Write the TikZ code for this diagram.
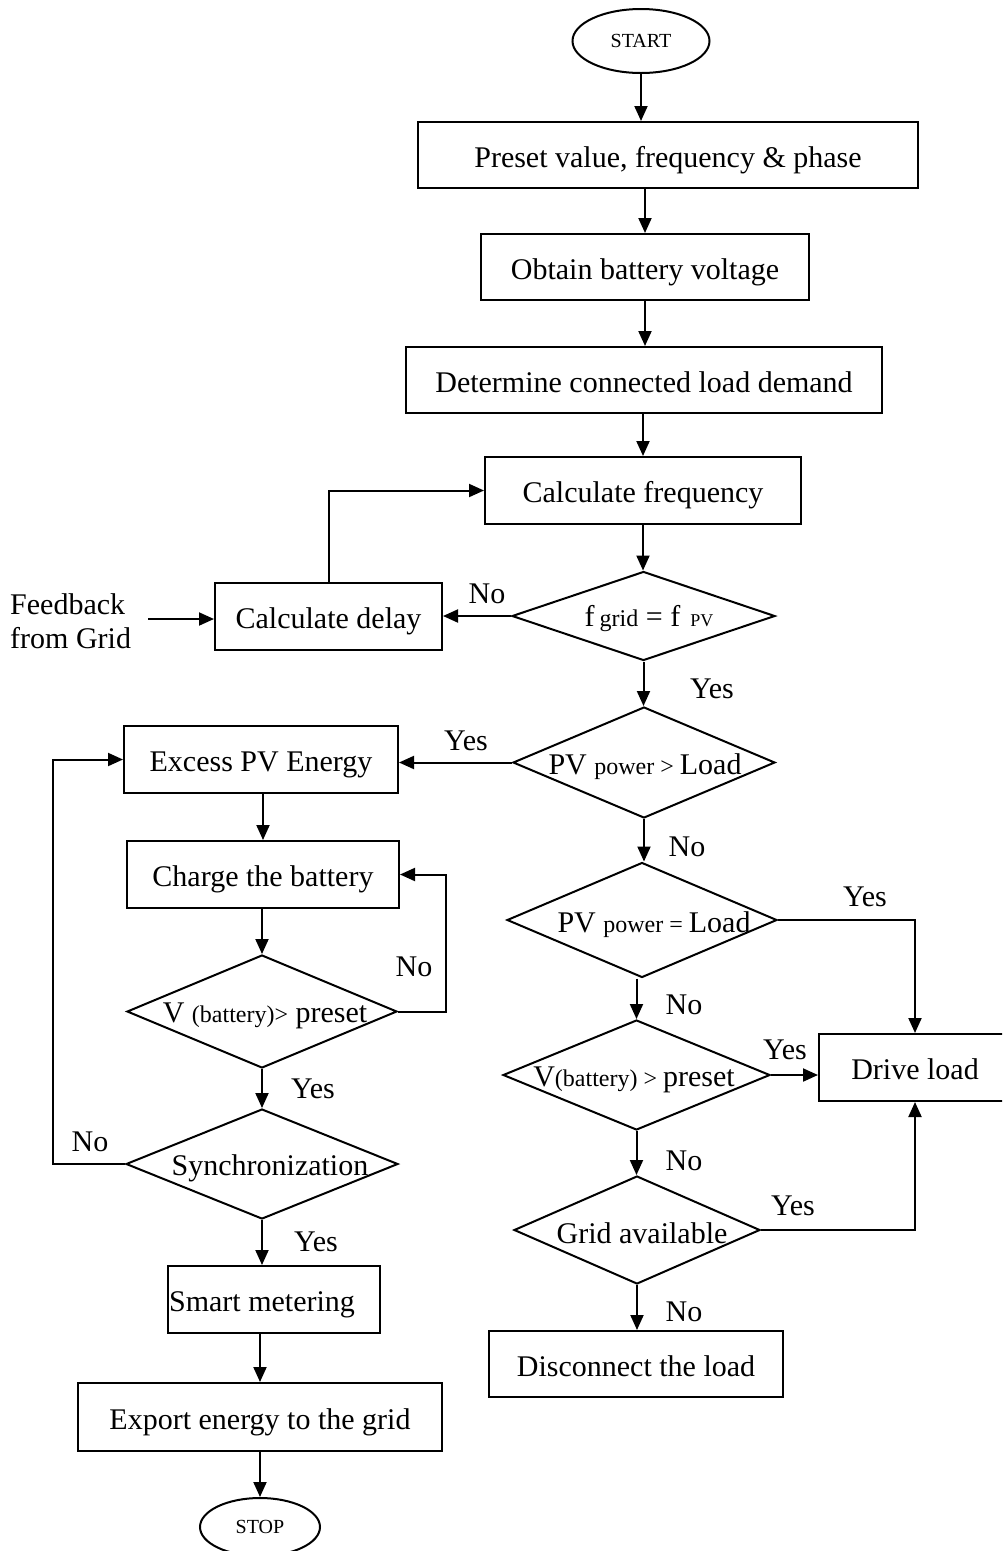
\documentclass[tikz,border=0pt]{standalone}
\usepackage{fontspec}
\setmainfont{Liberation Serif}
\usetikzlibrary{shapes.geometric,arrows.meta}
\newcommand{\smtxt}[1]{{\fontsize{24}{24}\selectfont #1}}
\newcommand{\tntxt}[1]{{\fontsize{18}{18}\selectfont #1}}
\begin{document}
\begin{tikzpicture}[x=1pt,y=-1pt,
  every node/.style={font=\fontsize{30}{34}\selectfont, inner sep=0pt},
  box/.style={draw, line width=2pt, rectangle, minimum height=66pt, text height=26pt, text depth=2pt},
  dia/.style={draw, line width=2pt, diamond, inner sep=0pt},
  term/.style={draw, line width=2pt, ellipse, font=\fontsize{20}{24}\selectfont},
  conn/.style={line width=2pt},
  arr/.style={conn, -{Triangle[length=15pt,width=13pt]}}]
\clip (0,0) rectangle (1002,1551);
\fill[white] (0,0) rectangle (1002,1551);

% right column
\node[term, minimum width=137pt, minimum height=64pt] (start) at (641,41) {START};
\node[box, minimum width=500pt] (preset) at (668,155) {Preset value, frequency \& phase};
\node[box, minimum width=328pt] (obtain) at (645,267) {Obtain battery voltage};
\node[box, minimum width=476pt] (determine) at (644,380) {Determine connected load demand};
\node[box, minimum width=316pt, minimum height=67pt] (calc) at (643,490.5) {Calculate frequency};
\node[dia, minimum width=263pt, minimum height=89pt] (d1) at (643.5,616) {};
\node (d1t) at (649,619) {f\,\smtxt{grid} = f\,\,\tntxt{PV}};
\node[box, minimum width=227pt, minimum height=67pt] (delay) at (328.5,616.5) {Calculate delay};
\node[align=left, anchor=west] (fb) at (10,621) {Feedback\\from Grid};
\coordinate (fbout) at (148,619);

\node[dia, minimum width=262pt, minimum height=111pt] (d2) at (644,762.5) {};
\node (d2t) at (645,767) {PV \smtxt{power > }Load};
\node[dia, minimum width=270pt, minimum height=115pt] (d3) at (642,920) {};
\node (d3t) at (654,925) {PV \smtxt{power = }Load};
\node[dia, minimum width=267pt, minimum height=110pt] (d4) at (636.5,1075) {};
\node (d4t) at (634,1080) {V\smtxt{(battery) > }preset};
\node[dia, minimum width=246pt, minimum height=108pt] (d5) at (637,1230) {};
\node (d5t) at (642,1233) {Grid available};
\node[box, minimum width=294pt] (disc) at (636,1364) {Disconnect the load};
\node[box, minimum width=192pt, minimum height=67pt] (drive) at (915,1067.5) {Drive load};

% left column
\node[box, minimum width=274pt, minimum height=67pt] (excess) at (261,759.5) {Excess PV Energy};
\node[box, minimum width=272pt, minimum height=67pt] (charge) at (263,874.5) {Charge the battery};
\node[dia, minimum width=270pt, minimum height=113pt] (dl1) at (262,1011.5) {};
\node (dl1t) at (265,1016) {V \smtxt{(battery)>} preset};
\node[dia, minimum width=272pt, minimum height=110pt] (dl2) at (262,1164) {};
\node (dl2t) at (270,1168) {Synchronization};
\node[box, minimum width=212pt, minimum height=67pt] (smart) at (274,1299.5) {};
\node[text height=26pt, text depth=2pt] (smartt) at (262,1299.5) {Smart metering};
\node[box, minimum width=364pt, minimum height=68pt] (export) at (260,1417) {Export energy to the grid};
\node[term, minimum width=120pt, minimum height=58pt] (stop) at (260,1527) {STOP};

% connectors
\draw[arr] (start.south) -- (start.south |- preset.north);
\draw[arr] (obtain.north |- preset.south) -- (obtain.north);
\draw[arr] (obtain.south) -- (obtain.south |- determine.north);
\draw[arr] (calc.north |- determine.south) -- (calc.north);
\draw[arr] (calc.south) -- (calc.south |- d1.north);
\draw[arr] (d1.west) -- (d1.west -| delay.east);
\draw[arr] (fbout) -- (fbout -| delay.west);
\draw[arr] (delay.north) |- (calc.west);
\draw[arr] (d1.south) -- (d1.south |- d2.north);
\draw[arr] (d2.west) -- (d2.west -| excess.east);
\draw[arr] (d2.south) -- (d2.south |- d3.north);
\draw[arr] (d3.east) -| (drive.north);
\draw[arr] (d4.north |- d3.south) -- (d4.north);
\draw[arr] (d4.east) -- (d4.east -| drive.west);
\draw[arr] (d4.south) -- (d4.south |- d5.north);
\draw[arr] (d5.east) -| (drive.south);
\draw[arr] (d5.south) -- (d5.south |- disc.north);

\draw[arr] (excess.south -| charge.north) -- (charge.north);
\draw[arr] (charge.south -| dl1.north) -- (dl1.north);
\draw[arr] (dl1.east) -- ++(48,0) |- (charge.east);
\draw[arr] (dl1.south) -- (dl1.south |- dl2.north);
\draw[arr] (dl2.west) -- ++(-72,0) |- (excess.west);
\draw[arr] (dl2.south) -- (dl2.south |- smart.north);
\draw[arr] (export.north |- smart.south) -- (export.north);
\draw[arr] (export.south) -- (export.south |- stop.north);

% labels
\node (l1) at (487,594) {No};
\node (l2) at (712,689) {Yes};
\node (l3) at (466,741) {Yes};
\node (l4) at (687,847) {No};
\node (l5) at (865,897) {Yes};
\node (l6) at (684,1005) {No};
\node (l7) at (785,1050) {Yes};
\node (l8) at (684,1161) {No};
\node (l9) at (793,1206) {Yes};
\node (l10) at (684,1312) {No};
\node (l11) at (414,967) {No};
\node (l12) at (313,1089) {Yes};
\node (l13) at (90,1142) {No};
\node (l14) at (316,1242) {Yes};
\end{tikzpicture}
\end{document}
